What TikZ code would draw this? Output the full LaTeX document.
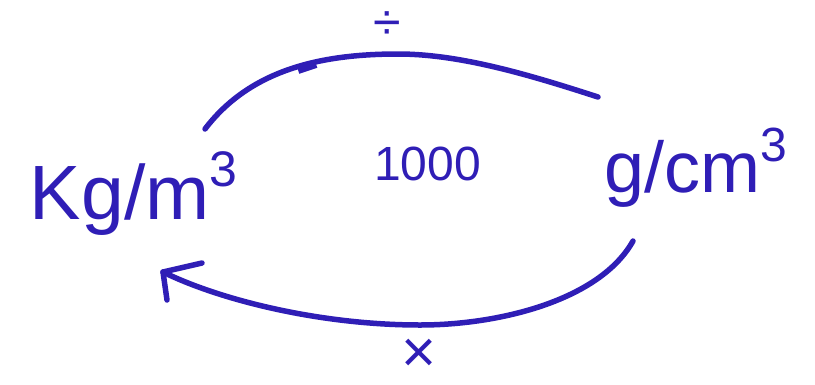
\documentclass[tikz,border=0pt]{standalone}
\usepackage{fontspec}
\setmainfont{Liberation Sans}
\definecolor{ink}{RGB}{47,30,182}
\begin{document}
\begin{tikzpicture}[x=1pt,y=-1pt,
  pen/.style={draw=ink,line width=5.5pt,line cap=round,line join=round},
  lbl/.style={text=ink,inner sep=0pt,outer sep=0pt}]
\useasboundingbox (0,0) rectangle (815,384);
% units
\node[lbl,anchor=base west] (kg) at (30,219) {\fontsize{77}{77}\selectfont Kg/m\raisebox{0.42em}{\fontsize{50}{50}\selectfont 3}};
\node[lbl,anchor=base west] (gcm) at (604,192) {\fontsize{72}{72}\selectfont g/cm\raisebox{0.42em}{\fontsize{48}{48}\selectfont 3}};
\node[lbl,anchor=base west] (k) at (374,180) {\fontsize{48}{48}\selectfont 1000};
\node[lbl] (div) at (387,26) {\fontsize{50}{50}\selectfont ÷};
\node[lbl] (mul) at (419,356) {\fontsize{60}{60}\selectfont ×};
% arc ends
\coordinate (ta) at (205,129);
\coordinate (tt) at (398,54);
\coordinate (tb) at (598,97);
\coordinate (ba) at (633,241);
\coordinate (bm) at (420,325);
\coordinate (tip) at (163,272);
% top arc (kg -> g/cm3), divide
\draw[pen] (ta) .. controls (250,70) and (320,54) .. (tt) .. controls (460,54) and (530,75) .. (tb);
\draw[ink,line width=8pt,line cap=butt] (298,70) -- (316,64);
% bottom arc (g/cm3 -> kg), multiply
\draw[pen] (ba) .. controls (600,300) and (500,325) .. (bm) .. controls (320,325) and (220,300) .. (tip);
\draw[pen] (202,263) -- (tip) -- (167,300);
\end{tikzpicture}
\end{document}
